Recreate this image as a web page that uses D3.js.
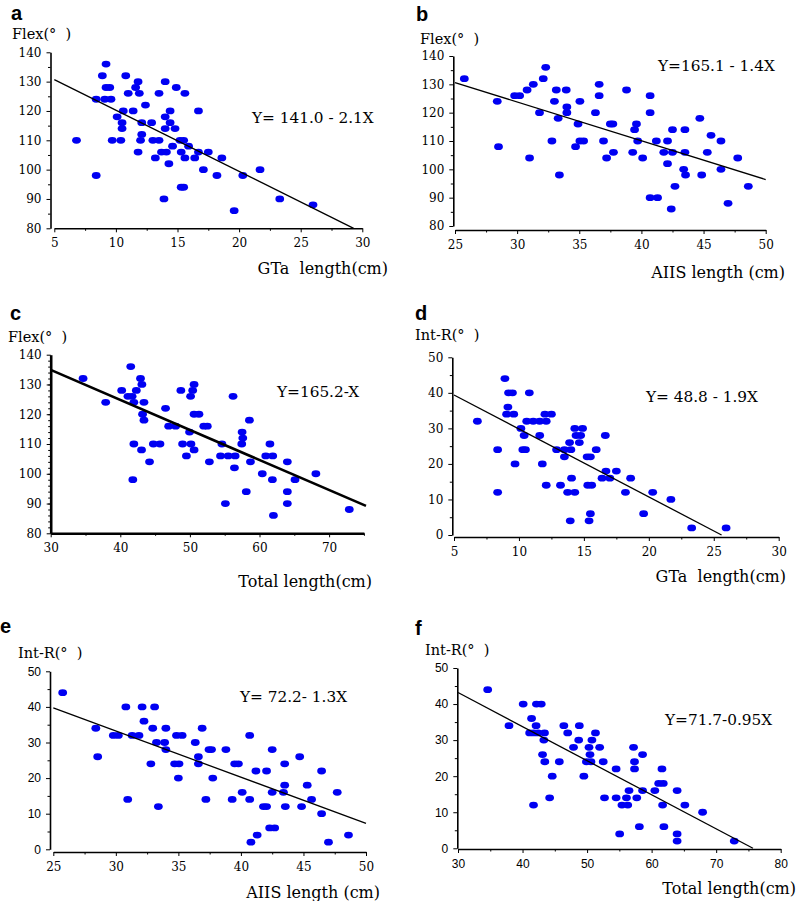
<!DOCTYPE html>
<html>
<head>
<meta charset="utf-8">
<script src="https://cdn.jsdelivr.net/npm/d3@7"></script>
<style>
  body { margin: 0; background: #fff; }
  text { white-space: pre; }
</style>
</head>
<body>
<div id="chart"></div>
<script>
// values, [length, angle]
const pointsA = [[9.2,136],[8.9,132],[10.8,132],[11.8,130],[14.0,130],[9.2,128],[9.5,128],[11.6,128],[14.9,128],
  [11.0,126],[11.9,126],[13.5,126],[15.6,126],[8.4,124],[9.1,124],[9.6,124],[12.4,122],[10.6,120],[11.4,120],
  [14.4,120],[16.7,120],[10.1,118],[14.0,118],[10.5,116],[12.1,116],[12.9,116],[14.4,116],[10.5,114],[14.0,114],
  [14.8,114],[12.1,112],[6.8,110],[9.7,110],[10.4,110],[12.0,110],[13.0,110],[13.5,110],[15.2,110],[15.5,110],
  [14.6,108],[15.9,108],[11.8,106],[13.7,106],[14.1,106],[15.3,106],[16.7,106],[17.5,106],[13.2,104],[15.6,104],
  [16.4,104],[18.6,104],[14.3,102],[17.1,100],[21.7,100],[8.4,98],[18.2,98],[20.3,98],[15.3,94],[15.5,94],
  [13.9,90],[23.3,90],[26.0,88],[19.6,86]];

const pointsB = [[25.75,132],[28.4,124],[28.5,108],[29.8,126],[30.2,126],[30.8,128],[31.3,130],[31.0,104],
  [31.8,120],[32.1,132],[32.3,136],[33.0,124],[33.15,128],[32.8,110],[33.3,118],[33.4,98],[33.95,128],[34.0,122],
  [34.0,120],[35.05,124],[34.9,116],[34.7,108],[35.05,110],[35.35,110],[36.3,120],[36.6,130],[36.6,126],[36.95,110],
  [37.2,104],[37.5,116],[37.7,116],[37.75,106],[38.8,128],[39.3,106],[39.45,114],[39.6,116],[39.7,110],[40.1,104],
  [40.7,126],[40.7,120],[40.7,90],[41.3,90],[41.2,110],[41.8,106],[42.1,110],[42.1,102],[42.4,86],[42.5,114],
  [42.5,106],[42.7,94],[43.4,100],[43.5,114],[43.5,106],[43.55,98],[44.7,118],[44.85,98],[45.3,106],[45.6,112],
  [46.4,110],[46.4,100],[46.97,88],[47.75,104],[48.6,94]];

const pointsC = [[34.65,132],[37.9,124],[40.2,128],[41.1,126],[41.7,126],[41.5,136],[41.95,124],[41.95,110],
  [41.8,98],[42.3,128],[42.9,132],[43.1,130],[43.4,124],[43.2,120],[43.4,118],[43.05,108],[44.2,104],[44.75,110],
  [45.7,110],[46.5,122],[46.95,116],[47.95,116],[48.7,128],[48.95,110],[49.5,106],[49.95,114],[50.1,126],
  [50.15,110],[50.4,128],[50.6,130],[50.6,108],[50.6,120],[51.3,120],[52.0,116],[52.5,116],[52.8,104],[54.6,110],
  [54.4,106],[55.5,106],[55.1,90],[56.2,126],[56.4,102],[56.5,106],[57.5,114],[57.6,112],[57.45,110],[58.1,94],
  [58.55,118],[58.7,104],[60.4,100],[60.9,106],[61.9,106],[61.5,110],[61.85,98],[62.0,86],[64.0,104],[64.0,94],
  [64.0,90],[65.1,98],[68.1,100],[72.9,88]];

const pointsD = [[6.8,32],[8.36,24],[8.36,12],[8.92,44],[9.2,40],[9.5,40],[9.15,36],[9.05,34],[9.6,34],[9.7,20],
  [10.15,30],[10.4,28],[10.3,24],[10.5,24],[10.8,40],[10.6,32],[11.1,32],[11.6,32],[12.1,32],[11.6,28],[11.8,20],
  [12.0,34],[12.5,34],[12.1,14],[12.9,24],[13.5,24],[13.5,22],[13.2,14],[13.75,12],[13.9,26],[14.0,24],[14.05,16],
  [13.95,4],[14.3,12],[14.3,30],[14.9,30],[14.4,28],[14.75,28],[14.65,26],[15.25,22],[15.5,22],[15.3,14],
  [15.6,14],[15.5,6],[15.4,4],[15.95,24],[16.4,16],[16.65,28],[16.7,18],[17.0,16],[17.5,18],[18.2,12],[18.6,16],
  [19.6,6],[20.3,12],[21.7,10],[23.3,2],[25.95,2]];

const pointsE = [[25.75,44],[28.4,34],[28.55,26],[29.8,32],[30.2,32],[30.8,40],[30.95,14],[31.3,32],[31.85,32],
  [32.1,40],[32.25,36],[32.8,24],[32.95,34],[33.1,40],[33.25,30],[33.4,12],[33.9,30],[34.0,34],[34.0,28],[34.7,24],
  [35.05,24],[34.85,32],[35.3,32],[35.0,20],[36.35,30],[36.6,26],[36.6,24],[36.9,34],[37.2,14],[37.45,28],
  [37.65,28],[37.75,20],[38.8,28],[39.3,14],[39.5,24],[39.8,24],[40.1,16],[40.7,32],[40.7,14],[40.8,2],[41.2,22],
  [41.3,4],[41.8,12],[42.05,12],[42.05,22],[42.3,6],[42.7,6],[42.5,28],[42.5,16],[43.4,16],[43.5,18],[43.5,24],
  [43.55,12],[44.7,26],[44.85,12],[45.3,18],[45.65,14],[46.45,22],[46.45,10],[47.0,2],[47.7,16],[48.6,4]];

const pointsF = [[34.6,44],[37.9,34],[40.1,40],[41.4,36],[41.1,32],[41.75,32],[42.1,34],[41.7,12],[42.15,40],
  [42.9,40],[42.4,32],[43.4,32],[43.3,30],[43.1,26],[43.45,24],[44.2,14],[44.6,20],[45.7,24],[46.4,34],[47.0,32],
  [47.9,28],[48.8,34],[48.7,30],[49.5,20],[49.9,24],[50.3,28],[50.45,26],[50.6,24],[50.75,30],[51.3,32],[51.95,28],
  [52.5,24],[52.7,14],[54.5,22],[54.5,14],[55.05,4],[55.4,12],[56.3,12],[56.1,14],[56.5,16],[57.2,28],[57.35,24],
  [57.35,22],[57.7,14],[58.1,6],[58.6,16],[58.6,26],[60.5,16],[61.1,18],[61.8,18],[61.6,22],[61.7,12],[61.9,6],
  [63.95,16],[63.95,4],[63.95,2],[65.15,12],[67.9,10],[72.8,2]];

// regression line end points as drawn
const fitA = [[5,130.7],[29.3,80]];
const fitB = [[25,130.6],[50,96.4]];
const fitC = [[30,134.9],[75.3,89.2]];
const fitD = [[5,39.4],[25.6,0]];
const fitE = [[25,39.7],[50,7.3]];
const fitF = [[30,43.2],[75.7,0]];

// tick values
const xTicksGta = [5,10,15,20,25,30];
const xTicksAiis = [25,30,35,40,45,50];
const xTicksTotalC = [30,40,50,60,70];
const xTicksTotalF = [30,40,50,60,70,80];
const yTicksFlex = [80,90,100,110,120,130,140];
const yTicksIntR = [0,10,20,30,40,50];

const equations = ["Y= 141.0 \u2010 2.1X", "Y=165.1 \u2010 1.4X", "Y=165.2-X",
  "Y= 48.8 \u2010 1.9X", "Y= 72.2\u2010 1.3X", "Y=71.7-0.95X"];

const serif = "'DejaVu Serif', 'Liberation Serif', serif";
const sans = "'Liberation Sans', Arial, sans-serif";
const dotColor = "#0000f2";

const svg = d3.select("#chart").append("svg")
  .attr("width", 798)
  .attr("height", 901);

const mids = t => t.slice(1).map((v, i) => (v + t[i]) / 2);

const panels = [
  { letter: "a", letterPos: [11, 20], pts: pointsA, fit: fitA, xDom: [5, 30], yDom: [80, 140],
    xR: [54.3, 362.3], yR: [228.3, 52.3], yAxisX: 50.5, xAxisY: 228.3,
    xTicks: xTicksGta, yTicks: yTicksFlex, xMinor: mids(xTicksGta), yMinor: mids(yTicksFlex),
    yTitle: "Flex(\u00b0  )", yTitlePos: [12, 39], xTitle: "GTa  length(cm)", xTitlePos: [388, 274],
    eq: equations[0], eqPos: [252, 123], xFont: serif, yFont: serif, lineW: 1.3, axisW: 1.6 },
  { letter: "b", letterPos: [416, 20.7], pts: pointsB, fit: fitB, xDom: [25, 50], yDom: [80, 140],
    xR: [455, 765.7], yR: [226, 56], yAxisX: 453.3, xAxisY: 230,
    xTicks: xTicksAiis, yTicks: yTicksFlex, xMinor: mids(xTicksAiis), yMinor: mids(yTicksFlex),
    yTitle: "Flex(\u00b0  )", yTitlePos: [420, 44], xTitle: "AIIS length (cm)", xTitlePos: [785, 278.3],
    eq: equations[1], eqPos: [658, 70.7], xFont: serif, yFont: serif, lineW: 1.3, axisW: 1.6 },
  { letter: "c", letterPos: [10, 320], pts: pointsC, fit: fitC, xDom: [30, 75], yDom: [80, 140],
    xR: [50.7, 363.9], yR: [533.3, 354.7], yAxisX: 50.7, xAxisY: 533.3,
    xTicks: xTicksTotalC, yTicks: yTicksFlex, xMinor: [35, 45, 55, 65, 75], yMinor: d3.range(82, 140, 2),
    yTitle: "Flex(\u00b0  )", yTitlePos: [8, 341.7], xTitle: "Total length(cm)", xTitlePos: [372, 587.3],
    eq: equations[2], eqPos: [277, 397.3], xFont: serif, yFont: serif, lineW: 2.6, axisW: 2.6 },
  { letter: "d", letterPos: [415, 320], pts: pointsD, fit: fitD, xDom: [5, 30], yDom: [0, 50],
    xR: [454, 778.7], yR: [535, 357.3], yAxisX: 452.3, xAxisY: 537,
    xTicks: xTicksGta, yTicks: yTicksIntR, xMinor: mids(xTicksGta), yMinor: mids(yTicksIntR),
    yTitle: "Int-R(\u00b0  )", yTitlePos: [415, 340], xTitle: "GTa  length(cm)", xTitlePos: [786, 581.7],
    eq: equations[3], eqPos: [646, 402.3], xFont: serif, yFont: serif, lineW: 1.3, axisW: 1.6 },
  { letter: "e", letterPos: [0, 633], pts: pointsE, fit: fitE, xDom: [25, 50], yDom: [0, 50],
    xR: [53.3, 366], yR: [849.3, 671.3], yAxisX: 50, xAxisY: 852,
    xTicks: xTicksAiis, yTicks: yTicksIntR, xMinor: mids(xTicksAiis), yMinor: mids(yTicksIntR),
    yTitle: "Int-R(\u00b0  )", yTitlePos: [18, 657.7], xTitle: "AIIS length (cm)", xTitlePos: [380, 897.7],
    eq: equations[4], eqPos: [240, 702.3], xFont: serif, yFont: sans, lineW: 1.3, axisW: 1.6 },
  { letter: "f", letterPos: [415, 635], pts: pointsF, fit: fitF, xDom: [30, 80], yDom: [0, 50],
    xR: [458, 780.7], yR: [848.3, 668], yAxisX: 457.3, xAxisY: 849,
    xTicks: xTicksTotalF, yTicks: yTicksIntR, xMinor: mids(xTicksTotalF), yMinor: mids(yTicksIntR),
    yTitle: "Int-R(\u00b0  )", yTitlePos: [425, 655], xTitle: "Total length(cm)", xTitlePos: [796, 894],
    eq: equations[5], eqPos: [665, 725], xFont: sans, yFont: sans, lineW: 1.3, axisW: 1.6 }
];

function drawPanel(p) {
  const x = d3.scaleLinear().domain(p.xDom).range(p.xR);
  const y = d3.scaleLinear().domain(p.yDom).range(p.yR);
  const g = svg.append("g");

  // y axis, major then minor ticks
  const yAxis = g.append("g")
    .attr("transform", `translate(${p.yAxisX},0)`)
    .call(d3.axisLeft(y).tickValues(p.yTicks).tickSize(4).tickSizeOuter(0).tickPadding(5));
  yAxis.select(".domain").attr("stroke-width", p.axisW);
  yAxis.selectAll("text").attr("font-family", p.yFont).attr("font-size", 12).attr("fill", "#000");
  g.append("g")
    .attr("transform", `translate(${p.yAxisX},0)`)
    .call(d3.axisLeft(y).tickValues(p.yMinor).tickSize(2.5).tickFormat(""))
    .select(".domain").remove();

  // x axis
  const xAxis = g.append("g")
    .attr("transform", `translate(0,${p.xAxisY})`)
    .call(d3.axisBottom(x).tickValues(p.xTicks).tickSize(4).tickSizeOuter(0).tickPadding(6));
  xAxis.select(".domain").attr("stroke-width", p.axisW);
  xAxis.selectAll("text").attr("font-family", p.xFont).attr("font-size", 12).attr("fill", "#000");
  g.append("g")
    .attr("transform", `translate(0,${p.xAxisY})`)
    .call(d3.axisBottom(x).tickValues(p.xMinor).tickSize(2.5).tickFormat(""))
    .select(".domain").remove();

  // points
  g.selectAll("ellipse")
    .data(p.pts)
    .enter()
    .append("ellipse")
    .attr("cx", d => x(d[0]))
    .attr("cy", d => y(d[1]))
    .attr("rx", 4.4)
    .attr("ry", 3.4)
    .attr("fill", dotColor);

  // fitted line
  g.append("path")
    .datum(p.fit)
    .attr("d", d3.line().x(d => x(d[0])).y(d => y(d[1])))
    .attr("stroke", "#000")
    .attr("stroke-width", p.lineW)
    .attr("fill", "none");

  // texts
  g.append("text")
    .attr("x", p.letterPos[0]).attr("y", p.letterPos[1])
    .attr("font-family", sans).attr("font-weight", "bold").attr("font-size", 20)
    .text(p.letter);
  g.append("text")
    .attr("x", p.yTitlePos[0]).attr("y", p.yTitlePos[1])
    .attr("font-family", serif).attr("font-size", 14.5)
    .text(p.yTitle);
  g.append("text")
    .attr("x", p.xTitlePos[0]).attr("y", p.xTitlePos[1])
    .attr("text-anchor", "end")
    .attr("font-family", serif).attr("font-size", 16)
    .text(p.xTitle);
  g.append("text")
    .attr("x", p.eqPos[0]).attr("y", p.eqPos[1])
    .attr("font-family", serif).attr("font-size", 15.3)
    .text(p.eq);
}

panels.forEach(drawPanel);
</script>
</body>
</html>
